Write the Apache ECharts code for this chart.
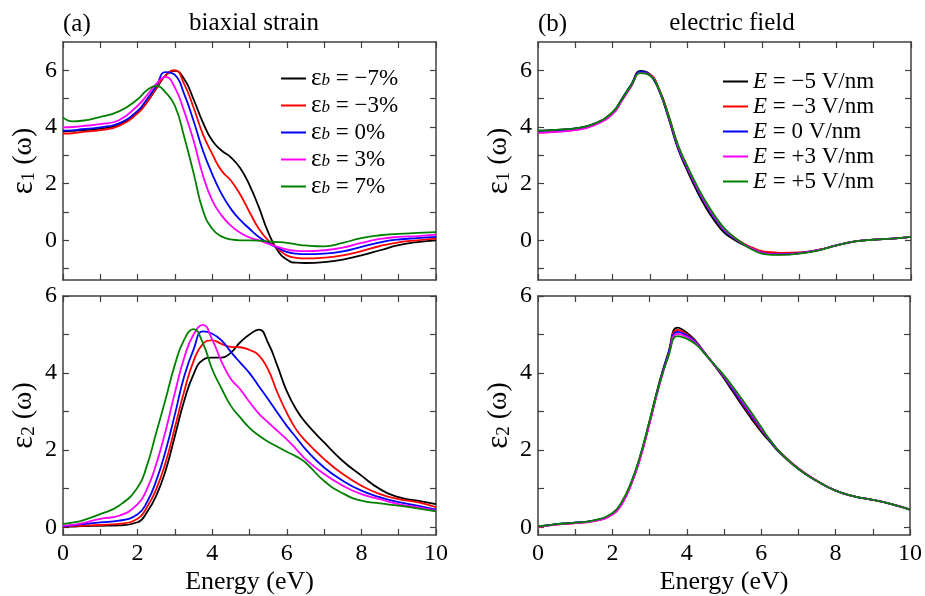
<!DOCTYPE html>
<html>
<head>
<meta charset="utf-8">
<script src="https://cdn.jsdelivr.net/npm/echarts@6/dist/echarts.min.js"></script>
<style>
html,body{margin:0;padding:0;background:#fff;}
#chart{width:925px;height:596px;}
</style>
</head>
<body>
<div id="chart"></div>
<script>
// ---------- data ----------
const energy = [0,0.25,0.5,1,1.5,2,2.25,2.5,2.75,3,3.25,3.5,3.75,4,4.25,4.5,4.75,5,5.25,5.5,5.75,6,6.25,6.5,7,7.5,8,8.5,9,9.5,10];

const strainNames = ['εb = −7%','εb = −3%','εb = 0%','εb = 3%','εb = 7%'];
const fieldNames  = ['E = −5 V/nm','E = −3 V/nm','E = 0 V/nm','E = +3 V/nm','E = +5 V/nm'];
const colors = ['#000000','#ff0000','#0000ff','#ff00ff','#008000'];

// (a) biaxial strain, eps1
const eps1_m7 = [3.85,3.86,3.88,3.94,4.08,4.51,4.88,5.35,5.82,5.98,5.69,4.98,4.16,3.52,3.17,2.93,2.55,1.95,1.17,0.29,-0.35,-0.68,-0.79,-0.8,-0.77,-0.68,-0.53,-0.35,-0.17,-0.06,0];
const eps1_m3 = [3.77,3.78,3.82,3.89,4.04,4.48,4.87,5.38,5.82,6.01,5.51,4.69,3.75,3.05,2.46,2.11,1.62,1.0,0.41,0,-0.29,-0.53,-0.62,-0.64,-0.61,-0.53,-0.38,-0.2,-0.07,0,0.06];
const eps1_p0 = [3.87,3.88,3.92,3.99,4.13,4.57,4.98,5.45,5.94,5.84,5.16,4.22,3.17,2.34,1.64,1.11,0.72,0.41,0.12,-0.09,-0.26,-0.41,-0.47,-0.49,-0.47,-0.39,-0.23,-0.07,0.03,0.08,0.12];
const eps1_p3 = [3.99,4.0,4.03,4.1,4.24,4.75,5.12,5.52,5.77,5.39,4.55,3.52,2.3,1.41,0.88,0.52,0.27,0.1,0,-0.12,-0.23,-0.32,-0.37,-0.38,-0.35,-0.26,-0.09,0.05,0.12,0.15,0.2];
const eps1_p7 = [4.34,4.2,4.22,4.36,4.55,4.98,5.3,5.45,5.22,4.75,3.65,2.38,1.06,0.41,0.14,0.03,0,0,-0.01,-0.04,-0.06,-0.09,-0.14,-0.18,-0.21,-0.09,0.08,0.18,0.23,0.26,0.29];

// (a) biaxial strain, eps2
const eps2_m7 = [0.02,0.02,0.03,0.04,0.05,0.13,0.39,0.82,1.47,2.37,3.28,3.97,4.34,4.4,4.4,4.53,4.8,5.0,5.13,4.78,4.18,3.53,3.06,2.72,2.2,1.72,1.34,0.99,0.78,0.69,0.6];
const eps2_m3 = [0.02,0.03,0.04,0.06,0.09,0.22,0.52,0.99,1.68,2.59,3.53,4.31,4.76,4.85,4.76,4.68,4.67,4.6,4.46,4.09,3.49,2.97,2.54,2.24,1.77,1.38,1.08,0.86,0.73,0.65,0.52];
const eps2_p0 = [0.03,0.05,0.08,0.13,0.17,0.34,0.65,1.21,1.98,2.93,3.92,4.61,5.08,5.02,4.85,4.55,4.27,4.0,3.66,3.32,2.97,2.63,2.33,2.03,1.55,1.21,0.95,0.78,0.65,0.56,0.46];
const eps2_p3 = [0.04,0.06,0.1,0.22,0.3,0.6,0.99,1.64,2.5,3.49,4.4,5.0,5.25,4.87,4.3,3.85,3.58,3.25,2.95,2.72,2.5,2.28,2.03,1.77,1.38,1.08,0.86,0.73,0.6,0.52,0.43];
const eps2_p7 = [0.09,0.12,0.17,0.34,0.56,1.03,1.6,2.46,3.32,4.22,4.87,5.14,4.78,4.1,3.6,3.15,2.85,2.58,2.38,2.22,2.09,1.96,1.84,1.68,1.2,0.88,0.69,0.62,0.56,0.49,0.41];

// (b) electric field, eps1
const eps1_em5 = [3.87,3.88,3.9,3.95,4.11,4.52,5.0,5.5,5.98,5.86,5.27,4.31,3.24,2.47,1.77,1.16,0.66,0.26,0.03,-0.15,-0.31,-0.43,-0.47,-0.48,-0.45,-0.35,-0.18,-0.04,0.02,0.06,0.12];
const eps1_em3 = [3.8,3.81,3.84,3.9,4.07,4.47,4.94,5.45,5.93,5.86,5.33,4.42,3.36,2.6,1.9,1.3,0.8,0.38,0.11,-0.1,-0.26,-0.38,-0.42,-0.44,-0.43,-0.34,-0.18,-0.04,0.02,0.06,0.12];
const eps1_e0  = [3.86,3.87,3.89,3.94,4.1,4.5,4.97,5.47,5.95,5.84,5.28,4.35,3.3,2.55,1.87,1.27,0.77,0.35,0.08,-0.13,-0.3,-0.43,-0.48,-0.49,-0.45,-0.35,-0.18,-0.04,0.02,0.06,0.12];
const eps1_ep3 = [3.8,3.81,3.83,3.89,4.06,4.46,4.93,5.44,5.91,5.83,5.3,4.38,3.33,2.58,1.9,1.3,0.8,0.38,0.1,-0.13,-0.3,-0.44,-0.49,-0.5,-0.46,-0.35,-0.18,-0.04,0.02,0.06,0.12];
const eps1_ep5 = [3.87,3.88,3.9,3.95,4.11,4.52,4.98,5.47,5.9,5.82,5.3,4.4,3.38,2.63,1.96,1.36,0.85,0.42,0.12,-0.13,-0.33,-0.47,-0.51,-0.51,-0.47,-0.36,-0.18,-0.04,0.02,0.06,0.12];

// (b) electric field, eps2
const eps2_em5 = [0.03,0.05,0.08,0.12,0.17,0.36,0.64,1.14,1.85,2.76,3.72,4.52,5.18,5.05,4.82,4.5,4.19,3.86,3.5,3.14,2.8,2.48,2.2,1.93,1.51,1.2,0.95,0.8,0.71,0.6,0.46];
const eps2_em3 = [0.02,0.04,0.07,0.11,0.16,0.33,0.6,1.1,1.8,2.7,3.66,4.48,5.12,5.01,4.8,4.5,4.2,3.89,3.55,3.2,2.86,2.53,2.24,1.96,1.53,1.21,0.95,0.8,0.71,0.6,0.46];
const eps2_e0  = [0.03,0.05,0.08,0.12,0.17,0.35,0.63,1.13,1.83,2.73,3.68,4.48,5.07,4.98,4.79,4.5,4.2,3.9,3.56,3.22,2.88,2.55,2.23,1.95,1.52,1.2,0.95,0.8,0.71,0.6,0.46];
const eps2_ep3 = [0.02,0.04,0.07,0.11,0.16,0.33,0.6,1.1,1.8,2.7,3.64,4.43,5.02,4.94,4.77,4.49,4.2,3.92,3.6,3.26,2.92,2.57,2.24,1.95,1.52,1.2,0.95,0.8,0.71,0.6,0.46];
const eps2_ep5 = [0.03,0.05,0.08,0.12,0.18,0.37,0.66,1.16,1.87,2.77,3.68,4.42,4.96,4.89,4.74,4.48,4.21,3.94,3.63,3.3,2.96,2.6,2.25,1.95,1.51,1.2,0.95,0.8,0.71,0.6,0.46];

// ticks
const xTicks = [0,1,2,3,4,5,6,7,8,9,10];
const xTickLabels = [0,2,4,6,8,10];
const eps1Ticks = [-1,0,1,2,3,4,5,6];
const eps1TickLabels = [0,2,4,6];
const eps2Ticks = [0,1,2,3,4,5,6];
const eps2TickLabels = [0,2,4,6];

// ---------- chart ----------
const FONT = 'Liberation Serif, Times New Roman, serif';
const AX = '#404040';
const chart = echarts.init(document.getElementById('chart'), null, {renderer:'canvas'});

const grids = [
  {left:63, top:42, width:373, height:238},
  {left:63, top:296, width:373, height:240},
  {left:538, top:42, width:373, height:238},
  {left:538, top:296, width:373, height:240}
];

function xPair(g, labels) {
  const base = {
    type:'value', gridIndex:g, min:0, max:10,
    axisLine:{show:true, onZero:false, lineStyle:{color:AX, width:1.5}},
    axisTick:{show:true, inside:true, length:6, customValues:xTicks, lineStyle:{color:AX, width:1.2}},
    splitLine:{show:false}
  };
  const bottom = Object.assign({}, base, {
    position:'bottom',
    axisLabel:{show:labels, customValues:xTickLabels, margin:7, color:'#000', fontFamily:FONT, fontSize:24},
    name: labels ? 'Energy (eV)' : '', nameLocation:'middle', nameGap:34,
    nameTextStyle:{color:'#000', fontFamily:FONT, fontSize:26}
  });
  const top = Object.assign({}, base, {position:'top', axisLabel:{show:false}});
  return [bottom, top];
}

function yPair(g, mn, mx, ticks, labels, sub) {
  const base = {
    type:'value', gridIndex:g, min:mn, max:mx,
    axisLine:{show:true, onZero:false, lineStyle:{color:AX, width:1.5}},
    axisTick:{show:true, inside:true, length:6, customValues:ticks, lineStyle:{color:AX, width:1.2}},
    splitLine:{show:false}
  };
  const left = Object.assign({}, base, {
    position:'left',
    axisLabel:{show:true, customValues:labels, margin:6, color:'#000', fontFamily:FONT, fontSize:24},
    name:'{e|ε}{s|' + sub + '}{t| (ω)}', nameLocation:'middle', nameGap:24, nameRotate:90,
    nameTextStyle:{
      color:'#000', fontFamily:FONT,
      rich:{
        e:{fontSize:31, fontFamily:FONT, color:'#000', lineHeight:30, verticalAlign:'middle'},
        s:{fontSize:19, fontFamily:FONT, color:'#000', lineHeight:14, verticalAlign:'bottom'},
        t:{fontSize:28, fontFamily:FONT, color:'#000', lineHeight:30, verticalAlign:'middle'}
      }
    }
  });
  const right = Object.assign({}, base, {position:'right', axisLabel:{show:false}});
  return [left, right];
}

const xAxes = [].concat(xPair(0,false), xPair(1,true), xPair(2,false), xPair(3,true));
const yAxes = [].concat(
  yPair(0,-1.4,7,eps1Ticks,eps1TickLabels,'1'),
  yPair(1,-0.2,6,eps2Ticks,eps2TickLabels,'2'),
  yPair(2,-1.4,7,eps1Ticks,eps1TickLabels,'1'),
  yPair(3,-0.2,6,eps2Ticks,eps2TickLabels,'2')
);

const panelData = [
  {g:0, names:strainNames, sets:[eps1_m7,eps1_m3,eps1_p0,eps1_p3,eps1_p7]},
  {g:1, names:strainNames, sets:[eps2_m7,eps2_m3,eps2_p0,eps2_p3,eps2_p7]},
  {g:2, names:fieldNames,  sets:[eps1_em5,eps1_em3,eps1_e0,eps1_ep3,eps1_ep5]},
  {g:3, names:fieldNames,  sets:[eps2_em5,eps2_em3,eps2_e0,eps2_ep3,eps2_ep5]}
];

const series = [];
panelData.forEach(p => {
  p.sets.forEach((vals, i) => {
    series.push({
      type:'line', name:p.names[i],
      xAxisIndex:2*p.g, yAxisIndex:2*p.g,
      data: energy.map((e, k) => [e, vals[k]]),
      smooth:0.5, showSymbol:false, symbol:'none',
      lineStyle:{color:colors[i], width:1.8},
      itemStyle:{color:colors[i]},
      animation:false, silent:true
    });
  });
});

const legRich = {
  e:{fontSize:25, fontFamily:FONT, color:'#000', lineHeight:22, verticalAlign:'middle'},
  s:{fontSize:17, fontFamily:FONT, fontStyle:'italic', color:'#000', lineHeight:8, verticalAlign:'bottom'},
  t:{fontSize:23, fontFamily:FONT, color:'#000', lineHeight:22, verticalAlign:'middle'},
  i:{fontSize:23, fontFamily:FONT, fontStyle:'italic', color:'#000', lineHeight:22, verticalAlign:'middle'}
};

const option = {
  backgroundColor:'#fff',
  animation:false,
  grid: grids,
  xAxis: xAxes,
  yAxis: yAxes,
  legend:[
    {
      data:strainNames, orient:'vertical', left:281, top:66, padding:0,
      icon:'rect', itemWidth:25, itemHeight:2, itemGap:2,
      selectedMode:false,
      formatter: n => '{e|ε}{s|b}{t|' + n.slice(2) + '}',
      textStyle:{fontFamily:FONT, fontSize:23, color:'#000', rich:legRich}
    },
    {
      data:fieldNames, orient:'vertical', left:723, top:70, padding:0,
      icon:'rect', itemWidth:25, itemHeight:2, itemGap:2,
      selectedMode:false,
      formatter: n => '{i|E}{t|' + n.slice(1) + '}',
      textStyle:{fontFamily:FONT, fontSize:23, color:'#000', rich:legRich}
    }
  ],
  graphic:[
    {type:'text', x:63, y:24, style:{text:'(a)', fill:'#000', font:'25px ' + FONT, textAlign:'left', textVerticalAlign:'middle'}},
    {type:'text', x:254, y:23, style:{text:'biaxial strain', fill:'#000', font:'25px ' + FONT, textAlign:'center', textVerticalAlign:'middle'}},
    {type:'text', x:538, y:24, style:{text:'(b)', fill:'#000', font:'25px ' + FONT, textAlign:'left', textVerticalAlign:'middle'}},
    {type:'text', x:732, y:23, style:{text:'electric field', fill:'#000', font:'25px ' + FONT, textAlign:'center', textVerticalAlign:'middle'}}
  ],
  series: series
};
chart.setOption(option);
</script>
</body>
</html>
